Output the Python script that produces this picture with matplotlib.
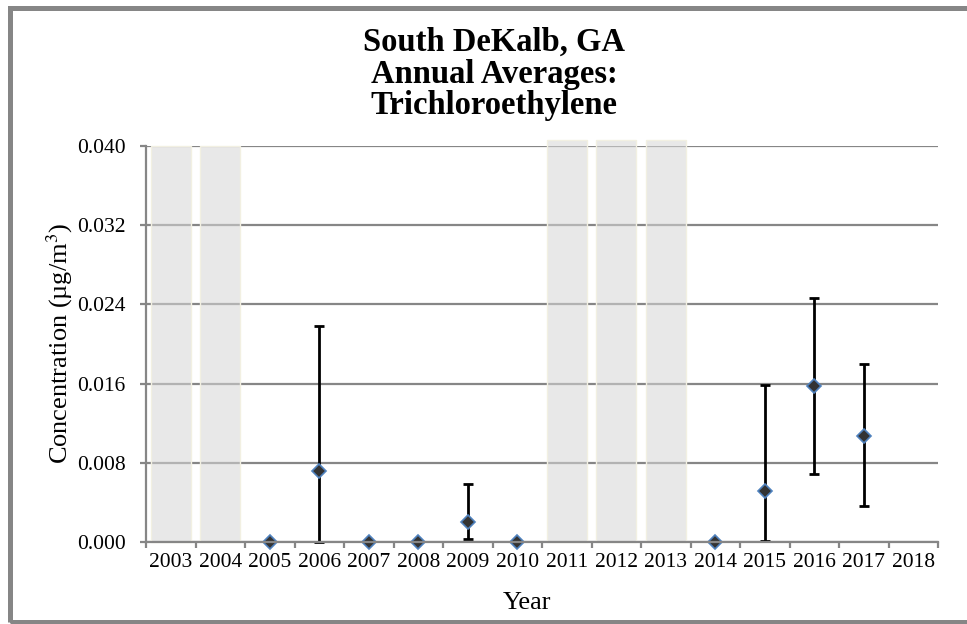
import matplotlib
matplotlib.use('Agg')
import matplotlib.pyplot as plt
from matplotlib.patches import Rectangle

plt.rcParams['font.family'] = ['Liberation Serif', 'DejaVu Serif']
plt.rcParams['mathtext.fontset'] = 'stix'

# categories (every year on the axis)
years = [str(y) for y in range(2003, 2019)]

# annual averages with lower / upper confidence limits
point_years = ['2005', '2006', '2007', '2008', '2009', '2010', '2014', '2015', '2016', '2017']
means = [0.0, 0.0072, 0.0, 0.0, 0.0020, 0.0, 0.0, 0.0052, 0.0158, 0.0107]
lower = [0.0, 0.0, 0.0, 0.0, 0.0003, 0.0, 0.0, 0.0001, 0.0069, 0.0036]
upper = [0.0, 0.0218, 0.0, 0.0, 0.0059, 0.0, 0.0, 0.0159, 0.0246, 0.0180]

# grey bars for years without enough data
gap_years = ['2003', '2004', '2011', '2012', '2013']
gap_heights = [0.040, 0.040, 0.0406, 0.0406, 0.0406]

yticks = [0.000, 0.008, 0.016, 0.024, 0.032, 0.040]

W, H = 967, 624
fig = plt.figure(figsize=(W / 100, H / 100), dpi=100)
ax = fig.add_axes([146 / W, 1 - 542 / H, (938 - 146) / W, (542 - 146) / H])

grid_c = '#868686'
for y in yticks:
    ax.axhline(y, color=grid_c, lw=1.6, zorder=1)

xpos = {yr: i for i, yr in enumerate(years)}

gx = [xpos[y] for y in gap_years]
ax.bar(gx, gap_heights, width=0.81, color=(214 / 255, 214 / 255, 214 / 255, 0.56),
       edgecolor='#f2f0e2', linewidth=1, zorder=2, clip_on=False)

px = [xpos[y] for y in point_years]
yerr = [[m - lo for m, lo in zip(means, lower)], [up - m for m, up in zip(means, upper)]]
ax.errorbar(px, means, yerr=yerr, fmt='none', ecolor='black', elinewidth=2,
            capsize=3.8, capthick=2, zorder=3, clip_on=False)
ax.plot(px, means, linestyle='none', marker='D', markersize=7.6,
        markerfacecolor='#333333', markeredgecolor='#4f81bd', markeredgewidth=1.2,
        zorder=4, clip_on=False)

ax.set_xlim(-0.5, len(years) - 0.5)
ax.set_ylim(0, 0.040)

ax.set_xticks(range(len(years)))
ax.set_xticklabels(years, fontsize=15.5)
ax.set_xticks([i - 0.5 for i in range(len(years) + 1)], minor=True)
ax.tick_params(axis='x', which='major', length=0, pad=8)
ax.tick_params(axis='x', which='minor', length=4.5, width=1.6, color=grid_c, direction='out')

ax.set_yticks(yticks)
ax.set_yticklabels(['%.3f' % v for v in yticks], fontsize=15.5)
ax.tick_params(axis='y', length=4.5, width=1.6, color=grid_c, direction='out', pad=10)

for s in ['top', 'right']:
    ax.spines[s].set_visible(False)
for s in ['left', 'bottom']:
    ax.spines[s].set_color(grid_c)
    ax.spines[s].set_linewidth(1.6)
    ax.spines[s].set_zorder(5)

fig.text(494 / W, 1 - 74 / H, 'South DeKalb, GA\nAnnual Averages:\nTrichloroethylene',
         ha='center', va='center', fontsize=23.5, fontweight='bold', linespacing=1.04)
fig.text(60 / W, 1 - 343 / H, r'Concentration (µg/m$^3$)', rotation=90,
         ha='center', va='center', fontsize=19)
fig.text(527 / W, 1 - 603 / H, 'Year', ha='center', va='center', fontsize=19)

# outer frame of the chart
fig.patches.append(Rectangle((9.5, 2.5), 970, 614, transform=None, fill=False,
                             edgecolor='#868686', linewidth=3.6))

fig.savefig('out.png', dpi=100, facecolor='white')
